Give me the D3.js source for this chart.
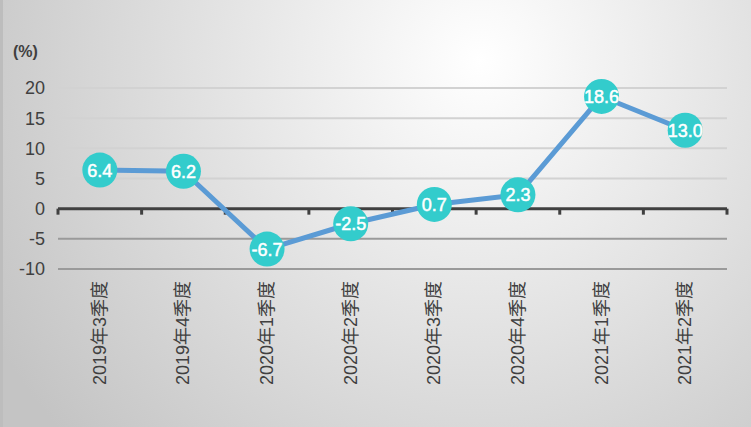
<!DOCTYPE html>
<html>
<head>
<meta charset="utf-8">
<script src="https://cdn.jsdelivr.net/npm/d3@7"></script>
<style>
  html, body { margin: 0; padding: 0; background: #fff; }
  #chart { width: 751px; height: 427px; }
</style>
</head>
<body>
<div id="chart"></div>
<script>
const quarters = ["2019年3季度", "2019年4季度", "2020年1季度", "2020年2季度",
                  "2020年3季度", "2020年4季度", "2021年1季度", "2021年2季度"];
const growth = [6.4, 6.2, -6.7, -2.5, 0.7, 2.3, 18.6, 13.0];
const yTicks = [-10, -5, 0, 5, 10, 15, 20];

const width = 751;
const height = 427;
const marginLeft = 58;
const marginRight = 24;
const yTop = 88;
const yBottom = 269;

const svg = d3.select("#chart").append("svg")
  .attr("width", width)
  .attr("height", height);

const defs = svg.append("defs");
const grad = defs.append("radialGradient")
  .attr("id", "bg")
  .attr("gradientUnits", "userSpaceOnUse")
  .attr("cx", 480).attr("cy", 60).attr("r", 560);
grad.append("stop").attr("offset", "0%").attr("stop-color", "#ffffff");
grad.append("stop").attr("offset", "100%").attr("stop-color", "#c4c4c4");

svg.append("rect")
  .attr("width", width).attr("height", height)
  .attr("fill", "url(#bg)");
svg.append("rect")
  .attr("x", 0).attr("y", 0).attr("width", 3).attr("height", height)
  .attr("fill", "#bdbdbd");

const x = d3.scaleBand()
  .domain(quarters)
  .range([marginLeft, width - marginRight]);

const y = d3.scaleLinear()
  .domain([-10, 20])
  .range([yBottom, yTop]);

// gridlines
svg.append("g")
  .selectAll("line")
  .data(yTicks.filter(d => d !== 0))
  .join("line")
  .attr("x1", marginLeft)
  .attr("x2", width - marginRight)
  .attr("y1", d => y(d))
  .attr("y2", d => y(d))
  .attr("stroke", d => d < 0 ? "#9a9a9a" : "#d2d2d2")
  .attr("stroke-width", 2);

// y labels
svg.append("g")
  .selectAll("text")
  .data(yTicks)
  .join("text")
  .attr("x", 45)
  .attr("y", d => y(d))
  .attr("dy", "0.36em")
  .attr("text-anchor", "end")
  .attr("font-family", "Liberation Sans, Arial, sans-serif")
  .attr("font-size", 18)
  .attr("fill", "#404040")
  .text(d => d);

svg.append("text")
  .attr("x", 13).attr("y", 57)
  .attr("font-family", "Liberation Sans, Arial, sans-serif")
  .attr("font-size", 16)
  .attr("font-weight", "bold")
  .attr("fill", "#404040")
  .text("(%)");

// x axis at zero
const xAxis = svg.append("g")
  .attr("transform", `translate(0,${y(0)})`)
  .call(d3.axisBottom(x).tickSize(0).tickFormat(""));
xAxis.select(".domain").remove();
xAxis.append("line")
  .attr("x1", marginLeft).attr("x2", width - marginRight)
  .attr("stroke", "#404040").attr("stroke-width", 3);
xAxis.append("g")
  .selectAll("line")
  .data(d3.range(quarters.length + 1))
  .join("line")
  .attr("x1", i => marginLeft + i * x.step())
  .attr("x2", i => marginLeft + i * x.step())
  .attr("y1", 0).attr("y2", 6)
  .attr("stroke", "#404040").attr("stroke-width", 3);

// category labels, vertical
svg.append("g")
  .selectAll("text")
  .data(quarters)
  .join("text")
  .attr("transform", d => `translate(${x(d) + x.bandwidth() / 2 + 6},281) rotate(-90)`)
  .attr("text-anchor", "end")
  .attr("font-family", "Liberation Sans, Noto Sans CJK SC, sans-serif")
  .attr("font-size", 18)
  .attr("fill", "#404040")
  .text(d => d);

// line
const cx = (d, i) => x(quarters[i]) + x.bandwidth() / 2;
svg.append("path")
  .datum(growth)
  .attr("fill", "none")
  .attr("stroke", "#5b9bd5")
  .attr("stroke-width", 5)
  .attr("stroke-linejoin", "round")
  .attr("d", d3.line().x(cx).y(d => y(d)));

const pts = svg.append("g")
  .selectAll("g")
  .data(growth)
  .join("g")
  .attr("transform", (d, i) => `translate(${cx(d, i)},${y(d)})`);
pts.append("circle")
  .attr("r", 17.5)
  .attr("fill", "#33cccc");
pts.append("text")
  .attr("text-anchor", "middle")
  .attr("dy", "0.36em")
  .attr("font-family", "Liberation Sans, Arial, sans-serif")
  .attr("font-size", 18)
  .attr("fill", "#ffffff")
  .attr("stroke", "#ffffff")
  .attr("stroke-width", 0.5)
  .text(d => d.toFixed(1));
</script>
</body>
</html>
